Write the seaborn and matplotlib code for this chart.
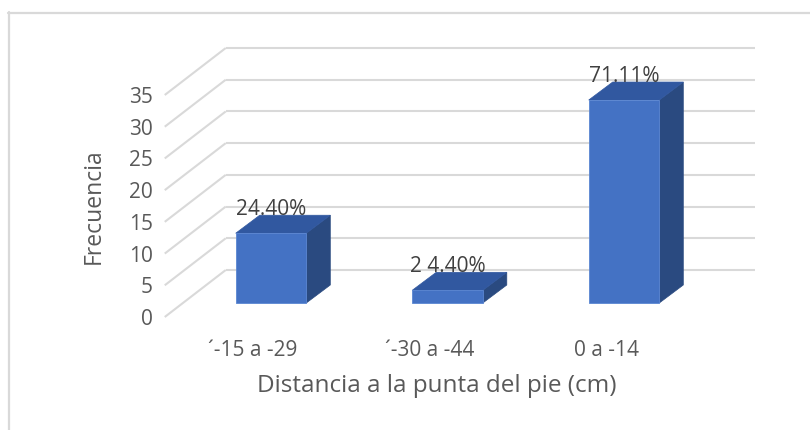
import matplotlib
matplotlib.use("Agg")
import matplotlib.pyplot as plt
from matplotlib.patches import Polygon
from matplotlib.lines import Line2D
from matplotlib.transforms import ScaledTranslation
import seaborn as sns
import pandas as pd

# Data
categories = ["´-15 a -29", "´-30 a -44", "0 a -14"]
frecuencia = [11, 2, 32]
etiquetas = ["24.40%", "2 4.40%", "71.11%"]
y_ticks = [0, 5, 10, 15, 20, 25, 30, 35]

# Colours
FRONT = "#4472C4"
TOP = "#3158A0"
SIDE = "#2A4A80"
GRID = "#D9D9D9"
TEXT = "#595959"
LABEL = "#404040"

DPI = 100
W, H = 810, 430

sns.set_theme(style="white")
plt.rcParams["font.family"] = ["Open Sans", "DejaVu Sans"]

TICK_FS = 15
DATA_FS = 15
XTITLE_FS = 17.5
YTITLE_FS = 16.5

fig = plt.figure(figsize=(W / DPI, H / DPI), dpi=DPI)
fig.patch.set_facecolor("white")

# Front plane of the 3-D box (pixels)
ax_left, ax_right = 164.75, 694.25
ax_bottom_from_top, ax_top_from_top = 317.0, 95.0
ax = fig.add_axes([ax_left / W, (H - ax_bottom_from_top) / H,
                   (ax_right - ax_left) / W,
                   (ax_bottom_from_top - ax_top_from_top) / H])
ax.set_facecolor("none")

df = pd.DataFrame({"cat": categories, "freq": frecuencia})
sns.barplot(data=df, x="cat", y="freq", ax=ax, color=FRONT, saturation=1,
            width=0.4, edgecolor="#5A86D2", linewidth=0.6, zorder=3)

ax.set_xlim(-0.5, 2.5)
ax.set_ylim(0, 35)

# pixels per data unit
sx = (ax_right - ax_left) / 3.0
sy = (ax_bottom_from_top - ax_top_from_top) / 35.0

# depth vectors (pixels): full wall depth, bar front, bar back
depth_px = (61.0, 47.0)
front_px = (18.0, 14.0)
back_px = (42.0, 32.0)
dx, dy = depth_px[0] / sx, depth_px[1] / sy
fx, fy = front_px[0] / sx, front_px[1] / sy
bx, by = back_px[0] / sx, back_px[1] / sy

# Gridlines: floor/side diagonals and back wall
for v in y_ticks:
    ax.add_line(Line2D([-0.5, -0.5 + dx], [v, v + dy], color=GRID, lw=1.5,
                       zorder=0.5, clip_on=False, solid_capstyle="butt"))
    ax.add_line(Line2D([-0.5 + dx, 2.5 + dx], [v + dy, v + dy], color=GRID,
                       lw=1.5, zorder=0.5, clip_on=False, solid_capstyle="butt"))

# Push bar fronts into depth and add side/top faces
shift = ScaledTranslation(front_px[0] / DPI, front_px[1] / DPI, fig.dpi_scale_trans)
for p, lab in zip(ax.patches, etiquetas):
    p.set_transform(ax.transData + shift)
    p.set_clip_on(False)
    x0 = p.get_x()
    x1 = x0 + p.get_width()
    h = p.get_height()
    side = Polygon([(x1 + fx, fy), (x1 + fx, h + fy), (x1 + bx, h + by), (x1 + bx, by)],
                   closed=True, facecolor=SIDE, edgecolor=SIDE, lw=0.5,
                   zorder=2.5, clip_on=False)
    top = Polygon([(x0 + fx, h + fy), (x1 + fx, h + fy), (x1 + bx, h + by), (x0 + bx, h + by)],
                  closed=True, facecolor=TOP, edgecolor=TOP, lw=0.5,
                  zorder=2.6, clip_on=False)
    ax.add_patch(side)
    ax.add_patch(top)
    xc = (x0 + x1) / 2 + fx
    ax.text(xc, h + by + 6.0 / sy, lab, ha="center", va="center",
            fontsize=DATA_FS, color=LABEL, zorder=5, clip_on=False)

for s in ax.spines.values():
    s.set_visible(False)
ax.grid(False)

ax.set_yticks(y_ticks)
ax.set_yticklabels([str(v) for v in y_ticks])
ax.tick_params(axis="y", length=0, pad=8.5, labelsize=TICK_FS, labelcolor=TEXT)
ax.tick_params(axis="x", length=0, pad=16.5, labelsize=TICK_FS, labelcolor=TEXT)

ax.set_xlabel("Distancia a la punta del pie (cm)", fontsize=XTITLE_FS, color=TEXT)
ax.xaxis.set_label_coords((437 - ax_left) / (ax_right - ax_left),
                          ((H - 386) - (H - ax_bottom_from_top)) / (ax_bottom_from_top - ax_top_from_top))
ax.xaxis.label.set_va("center")
ax.set_ylabel("Frecuencia", fontsize=YTITLE_FS, color=TEXT)
ax.yaxis.set_label_coords((94 - ax_left) / (ax_right - ax_left),
                          ((H - 206) - (H - ax_bottom_from_top)) / (ax_bottom_from_top - ax_top_from_top))
ax.yaxis.label.set_va("center")

# Chart frame (top and left edges visible)
fig.add_artist(Line2D([8 / W, 1.0], [(H - 13) / H, (H - 13) / H], color=GRID,
                      lw=1.6, transform=fig.transFigure))
fig.add_artist(Line2D([9 / W, 9 / W], [0.0, (H - 12) / H], color=GRID,
                      lw=1.6, transform=fig.transFigure))

fig.savefig("out.png", dpi=DPI, facecolor="white")
